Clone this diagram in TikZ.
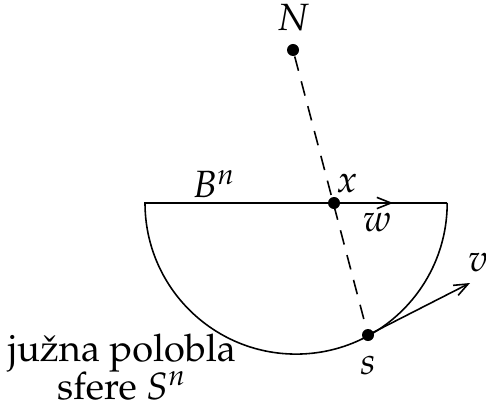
\documentclass[tikz,border=0pt]{standalone}
\usepackage[T1]{fontenc}
\usepackage{mathpazo}
\usepackage{tikz}
\usetikzlibrary{positioning, arrows.meta}

\begin{document}
\begin{tikzpicture}[
  x=0.01cm, y=0.01cm,
  font=\fontsize{10.8}{13}\selectfont,
  pt/.style={circle, fill=black, inner sep=0pt, minimum size=1.2mm},
  rim/.style={line width=0.45pt},
  ray/.style={line width=0.45pt, dash pattern=on 4.2pt off 3.1pt},
  vec/.style={line width=0.45pt, -{Straight Barb[length=4pt, width=3.2pt]}},
  lbl/.style={inner sep=1pt}
]
\useasboundingbox (0,0) rectangle (486,409);

% the half disk and its rim
\coordinate (west) at (145,206);
\coordinate (east) at (447,206);
\draw[rim] (east) -- (west) arc[start angle=180, end angle=360, radius=1.51cm];

% points
\node[pt] (N) at (293,359) {};
\node[pt] (x) at (334,206) {};
\node[pt] (s) at (368,74) {};
\coordinate (wend) at (393,206);
\coordinate (vend) at (470,126);

% projection ray from N through x to s
\draw[ray] (N) -- (s);

% tangent vectors
\draw[vec] (x.center) -- (wend);
\draw[vec] (s.center) -- (vend);

% labels
\node[lbl] (Nlbl) at (293,391) {$N$};
\node[lbl] (Blbl) at (214,225) {$B^n$};
\node[lbl] (xlbl) at (347,226) {$x$};
\node[lbl] (wlbl) at (377,187) {$w$};
\node[lbl] (vlbl) at (478,147) {$v$};
\node[lbl] (slbl) at (368,44) {$s$};
\node[inner sep=0pt, anchor=base] (south) at (122,48) {ju\v{z}na polobla};
\node[inner sep=0pt, anchor=base] (sfere) at (122,10) {sfere $S^n$};

\end{tikzpicture}
\end{document}
